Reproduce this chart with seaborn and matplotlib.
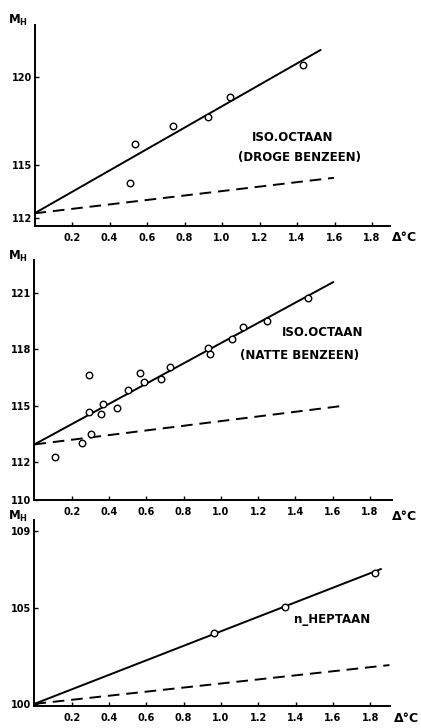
import matplotlib
matplotlib.use("Agg")
import matplotlib.pyplot as plt
import seaborn as sns
import pandas as pd

# ---------------- data ----------------
x_ticks = [0.2, 0.4, 0.6, 0.8, 1.0, 1.2, 1.4, 1.6, 1.8]
x_tick_labels = ["0.2", "0.4", "0.6", "0.8", "1.0", "1.2", "1.4", "1.6", "1.8"]

# Panel 1: ISO.OCTAAN (droge benzeen)
p1_dt = [0.509, 0.538, 0.739, 0.927, 1.043, 1.430]
p1_mh = [114.02, 116.19, 117.24, 117.72, 118.89, 120.68]
p1_fit_x = [0.0, 1.526]
p1_fit_y = [112.29, 121.53]
p1_dash_x = [0.0, 1.597]
p1_dash_y = [112.29, 114.30]
p1_yticks = [112, 115, 120]

# Panel 2: ISO.OCTAAN (natte benzeen)
p2_dt = [0.110, 0.257, 0.305, 0.293, 0.295, 0.355, 0.368, 0.441, 0.500, 0.566,
         0.588, 0.679, 0.729, 0.931, 0.940, 1.061, 1.120, 1.249, 1.467]
p2_mh = [112.26, 113.04, 113.51, 114.68, 116.61, 114.56, 115.11, 114.90, 115.86, 116.75,
         116.26, 116.43, 117.08, 118.09, 117.77, 118.57, 119.16, 119.51, 120.73]
p2_fit_x = [0.0, 1.603]
p2_fit_y = [112.95, 121.57]
p2_dash_x = [0.0, 1.656]
p2_dash_y = [112.95, 115.00]
p2_yticks = [110, 112, 115, 118, 121]

# Panel 3: n-HEPTAAN
p3_dt = [0.965, 1.345, 1.828]
p3_mh = [103.67, 105.06, 106.80]
p3_fit_x = [0.0, 1.858]
p3_fit_y = [100.0, 107.02]
p3_dash_x = [0.0, 1.903]
p3_dash_y = [100.0, 102.02]
p3_yticks = [100, 105, 109]

# ---------------- style ----------------
sns.set_style("ticks")
plt.rcParams["font.family"] = ["DejaVu Sans"]
plt.rcParams["font.weight"] = "bold"
plt.rcParams["text.color"] = "black"

W, H = 421, 728
fig = plt.figure(figsize=(W / 100, H / 100), dpi=100)
fig.patch.set_facecolor("white")


def px_axes(left, top, right, bottom):
    return fig.add_axes([left / W, 1 - bottom / H, (right - left) / W, (bottom - top) / H])


def draw_panel(ax, dt, mh, fx, fy, dx, dy, xlim, ylim, yticks):
    pts = pd.DataFrame({"dt": dt, "mh": mh})
    fit = pd.DataFrame({"x": fx, "y": fy})
    dsh = pd.DataFrame({"x": dx, "y": dy})
    sns.lineplot(data=fit, x="x", y="y", ax=ax, color="black", lw=1.4)
    line = sns.lineplot(data=dsh, x="x", y="y", ax=ax, color="black", lw=1.4)
    line.lines[-1].set_dashes([6, 3.5])
    sns.scatterplot(data=pts, x="dt", y="mh", ax=ax, marker="o", s=22,
                    facecolor="white", edgecolor="black", linewidth=1.0, zorder=5)
    ax.set_xlim(*xlim)
    ax.set_ylim(*ylim)
    ax.set_xticks(x_ticks)
    ax.set_xticklabels(x_tick_labels)
    ax.set_yticks(yticks)
    ax.set_yticklabels([str(v) for v in yticks])
    ax.tick_params(axis="both", direction="in", length=3, width=1.0,
                   labelsize=7, pad=5, colors="black")
    ax.tick_params(axis="y", pad=2)
    for lab in ax.get_xticklabels() + ax.get_yticklabels():
        lab.set_fontweight("bold")
    sns.despine(ax=ax)
    for s in ("left", "bottom"):
        ax.spines[s].set_linewidth(1.4)
        ax.spines[s].set_color("black")
    ax.set_xlabel("")
    ax.set_ylabel("")
    ax.set_facecolor("white")


ax1 = px_axes(34.5, 25, 390, 225.7)
draw_panel(ax1, p1_dt, p1_mh, p1_fit_x, p1_fit_y, p1_dash_x, p1_dash_y,
           (0, 1.896), (111.59, 122.94), p1_yticks)
ax1.text(1.379, 116.6, "ISO.OCTAAN", ha="center", va="center", fontsize=8.5,
         fontweight="bold", color="black")
ax1.text(1.416, 115.47, "(DROGE BENZEEN)", ha="center", va="center", fontsize=8.5,
         fontweight="bold", color="black")

ax2 = px_axes(34.4, 260, 391.7, 500)
draw_panel(ax2, p2_dt, p2_mh, p2_fit_x, p2_fit_y, p2_dash_x, p2_dash_y,
           (0, 1.916), (110.17, 122.74), p2_yticks)
ax2.text(1.547, 118.89, "ISO.OCTAAN", ha="center", va="center", fontsize=8.5,
         fontweight="bold", color="black")
ax2.text(1.424, 117.69, "(NATTE BENZEEN)", ha="center", va="center", fontsize=8.5,
         fontweight="bold", color="black")

ax3 = px_axes(34.4, 520, 390, 706)
draw_panel(ax3, p3_dt, p3_mh, p3_fit_x, p3_fit_y, p3_dash_x, p3_dash_y,
           (0, 1.906), (99.89, 109.57), p3_yticks)
ax3.text(1.594, 104.37, "n_HEPTAAN", ha="center", va="center", fontsize=8.5,
         fontweight="bold", color="black")

# axis labels
for (mx, my) in [(18, 20), (18, 256), (18, 516)]:
    fig.text(mx / W, 1 - my / H, r"$\mathbf{M_H}$", ha="center", va="center",
             fontsize=8.5, color="black")
for (cx, cy) in [(405, 238), (404, 517), (406, 719)]:
    fig.text(cx / W, 1 - cy / H, "Δ°C", ha="center", va="center", fontsize=9,
             fontweight="bold", color="black")

fig.savefig("out.png", dpi=100, facecolor="white")
